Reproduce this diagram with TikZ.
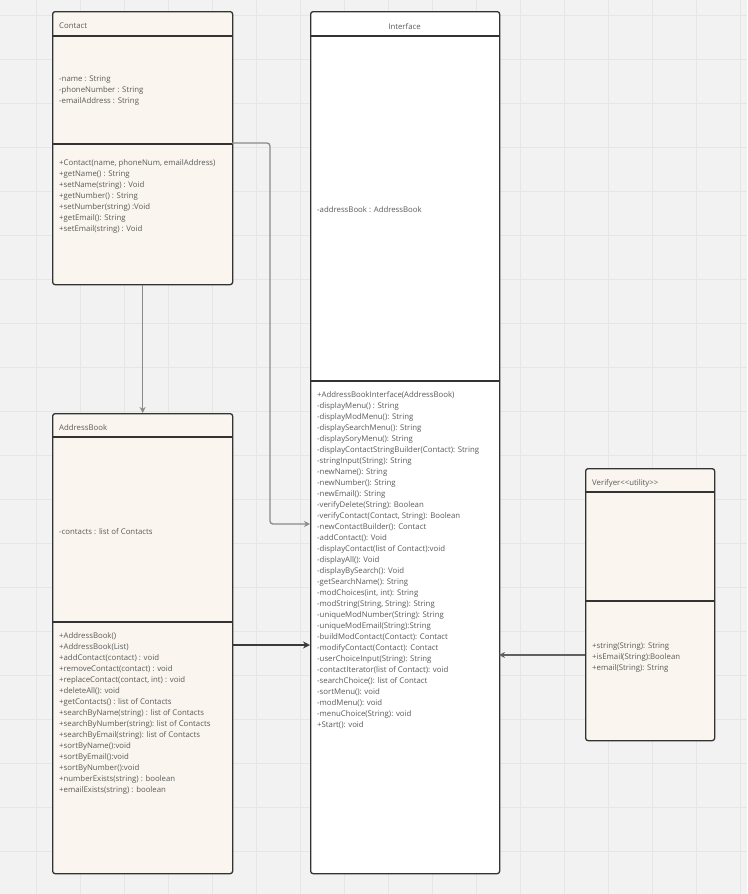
\documentclass[tikz,border=0pt]{standalone}
\usepackage{fontspec}
\setmainfont{Open Sans}
\usetikzlibrary{arrows.meta}
\definecolor{bgc}{HTML}{F2F2F2}
\definecolor{gridc}{HTML}{E6E6E6}
\definecolor{cream}{HTML}{FAF6EF}
\definecolor{edgec}{HTML}{333333}
\definecolor{txtc}{HTML}{5A5A5A}
\definecolor{connc}{HTML}{8A8A8A}
\definecolor{darkconn}{HTML}{3A3A3A}
\tikzset{
  umlbox/.style={draw=edgec, line width=1.3pt, fill=cream, rounded corners=2.5pt, inner sep=0pt, anchor=north west},
  divider/.style={draw=edgec, line width=1.3pt},
  txt/.style={text=txtc, font=\fontsize{7.8}{11}\selectfont, align=left, anchor=north west, inner sep=0pt},
  conn/.style={draw=connc, line width=1.3pt, -{Stealth[length=6pt,width=6pt]}, rounded corners=3pt},
  darkline/.style={draw=darkconn, line width=1.4pt, -{Stealth[length=7pt,width=7pt]}},
  gridline/.style={draw=gridc, line width=0.6pt}
}
\begin{document}
\begin{tikzpicture}[x=1pt,y=-1pt]
\fill[bgc] (0,0) rectangle (747,894);
\useasboundingbox (0,0) rectangle (747,894);
\foreach \gx in {36,80,...,740} \draw[gridline] (\gx,0) -- (\gx,894);
\foreach \gy in {15,59,...,890} \draw[gridline] (0,\gy) -- (747,\gy);

% Contact
\node[umlbox, minimum width=180pt, minimum height=273pt] (contact) at (52,11) {};
\draw[divider] (52,36) -- (232,36);
\draw[divider] (52,144) -- (232,144);
\node[txt] (contactT) at (59,23) {Contact};
\node[txt] (contactA) at (59,76) {-name : String\\-phoneNumber : String\\-emailAddress : String};
\node[txt] (contactM) at (59,159) {+Contact(name, phoneNum, emailAddress)\\+getName() : String\\+setName(string) : Void\\+getNumber() : String\\+setNumber(string) :Void\\+getEmail(): String\\+setEmail(string) : Void};

% AddressBook
\node[umlbox, minimum width=180pt, minimum height=460pt] (addressbook) at (52,413) {};
\draw[divider] (52,437) -- (232,437);
\draw[divider] (52,622) -- (232,622);
\node[txt] (abT) at (59,424) {AddressBook};
\node[txt] (abA) at (59,528) {-contacts : list of Contacts};
\node[txt] (abM) at (59,632) {+AddressBook()\\+AddressBook(List)\\+addContact(contact) : void\\+removeContact(contact) : void\\+replaceContact(contact, int) : void\\+deleteAll(): void\\+getContacts() : list of Contacts\\+searchByName(string) : list of Contacts\\+searchByNumber(string): list of Contacts\\+searchByEmail(string): list of Contacts\\+sortByName():void\\+sortByEmail():void\\+sortByNumber():void\\+numberExists(string) : boolean\\+emailExists(string) : boolean};

% Interface
\node[umlbox, fill=white, minimum width=189pt, minimum height=862pt] (interface) at (310,11) {};
\draw[divider] (310,36) -- (499,36);
\draw[divider] (310,381) -- (499,381);
\node[txt, anchor=north] (ifT) at (404.5,23) {Interface};
\node[txt] (ifA) at (317,206) {-addressBook : AddressBook};
\node[txt] (ifM) at (317,391) {+AddressBookInterface(AddressBook)\\-displayMenu() : String\\-displayModMenu(): String\\-displaySearchMenu(): String\\-displaySoryMenu(): String\\-displayContactStringBuilder(Contact): String\\-stringInput(String): String\\-newName(): String\\-newNumber(): String\\-newEmail(): String\\-verifyDelete(String): Boolean\\-verifyContact(Contact, String): Boolean\\-newContactBuilder(): Contact\\-addContact(): Void\\-displayContact(list of Contact):void\\-displayAll(): Void\\-displayBySearch(): Void\\-getSearchName(): String\\-modChoices(int, int): String\\-modString(String, String): String\\-uniqueModNumber(String): String\\-uniqueModEmail(String):String\\-buildModContact(Contact): Contact\\-modifyContact(Contact): Contact\\-userChoiceInput(String): String\\-contactIterator(list of Contact): void\\-searchChoice(): list of Contact\\-sortMenu(): void\\-modMenu(): void\\-menuChoice(String): void\\+Start(): void};

% Verifyer
\node[umlbox, minimum width=129pt, minimum height=272pt] (verifyer) at (585,468) {};
\draw[divider] (585,492) -- (714,492);
\draw[divider] (585,601) -- (714,601);
\node[txt] (vT) at (592,479) {Verifyer<{}<utility>{}>};
\node[txt] (vM) at (592,643) {+string(String): String\\+isEmail(String):Boolean\\+email(String): String};

% connectors
\coordinate (c1) at (232,143);
\coordinate (c2) at (310,524);
\draw[conn] (c1) -- (270,143) -- (270,524) -- (c2);
\draw[conn] (contact.south) -- (addressbook.north);
\coordinate (a1) at (232,645);
\coordinate (a2) at (310,645);
\draw[darkline] (a1) -- (a2);
\coordinate (v1) at (585,655);
\coordinate (v2) at (499,655);
\draw[conn, draw=darkconn!80] (v1) -- (v2);
\end{tikzpicture}
\end{document}
